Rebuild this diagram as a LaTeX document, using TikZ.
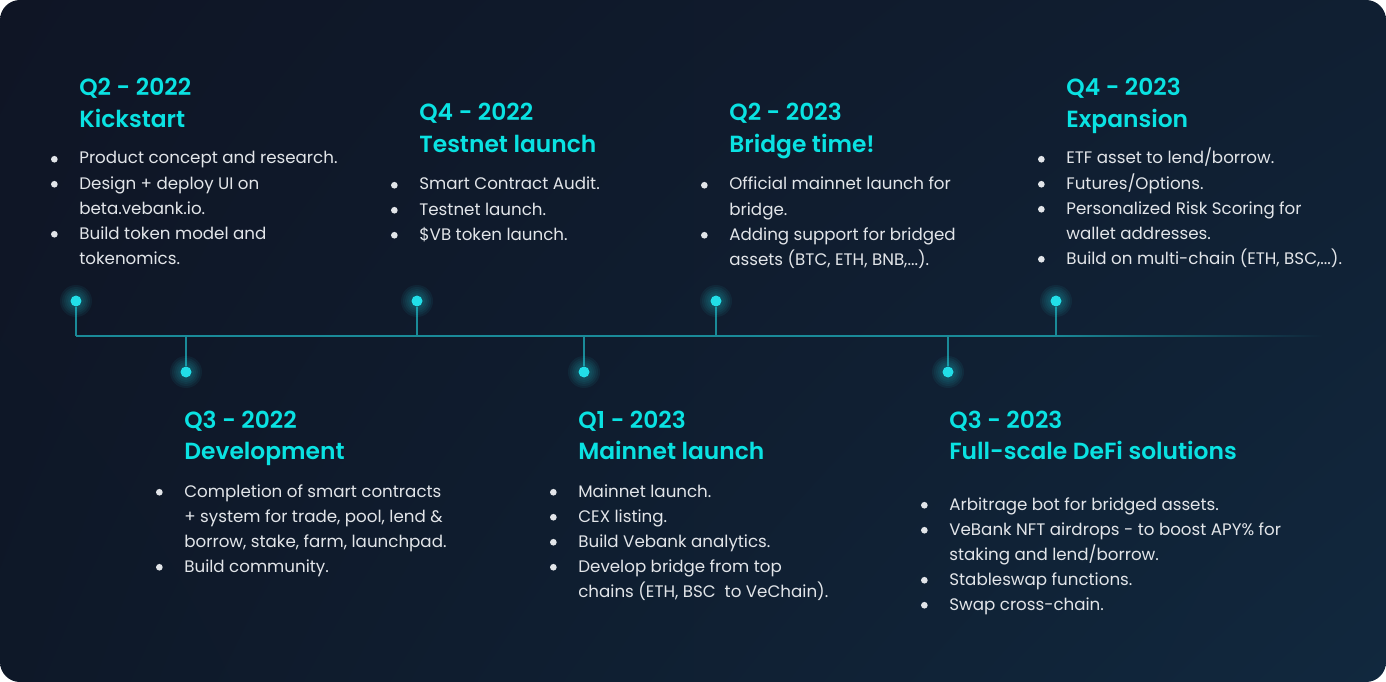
\documentclass[tikz,border=0pt]{standalone}
\usepackage{fontspec}
\setmainfont{Poppins}[BoldFont={Poppins SemiBold}]
\usetikzlibrary{fadings,shadings}
\definecolor{NightTL}{RGB}{15,21,37}
\definecolor{NightTR}{RGB}{16,31,50}
\definecolor{NightBL}{RGB}{14,24,40}
\definecolor{NightBR}{RGB}{17,40,62}
\definecolor{HeadCyan}{RGB}{10,226,226}
\definecolor{SoftWhite}{RGB}{226,229,233}
\definecolor{LineTeal}{RGB}{26,138,152}
\definecolor{DotCyan}{RGB}{34,222,232}

\newcommand{\bl}{\llap{\tikz[baseline=-2.7pt]\fill[SoftWhite] (0,0) circle (1.9pt);\hspace{\dimexpr0.5cm-1.9pt\relax}}}

\tikzset{
  qhead/.style={font=\fontsize{13.3}{18.2}\selectfont\bfseries, text=HeadCyan},
  qlist/.style={font=\fontsize{9.5}{14.23}\selectfont, text=SoftWhite},
  glowdot/.style={circle, fill=DotCyan, minimum size=0.22cm},
  stem/.style={LineTeal, line width=1.1pt},
}

\begin{document}
\begin{tikzpicture}[x=0.02cm, y=-0.02cm, every node/.style={inner sep=0pt, anchor=base west}]
  \useasboundingbox[fill=white] (0,0) rectangle (1386,682);
  \shade[rounded corners=0.4cm, upper left=NightTL, upper right=NightTR,
    lower left=NightBL, lower right=NightBR] (0,0) rectangle (1386,682);

  % timeline
  \coordinate (j1) at (76,336);
  \coordinate (j2) at (186,336);
  \coordinate (j3) at (417,336);
  \coordinate (j4) at (584,336);
  \coordinate (j5) at (716,336);
  \coordinate (j6) at (948,336);
  \coordinate (j7) at (1056,336);
  \coordinate (tail) at (1322,336);
  \draw[LineTeal, line width=1.6pt] (j1) -- (j7);
  \draw[LineTeal, line width=1.6pt, path fading=east] (j7) -- (tail);

  \node[glowdot, anchor=center] (d1) at (76,301) {};
  \node[glowdot, anchor=center] (d2) at (186,372) {};
  \node[glowdot, anchor=center] (d3) at (417,301) {};
  \node[glowdot, anchor=center] (d4) at (584,372) {};
  \node[glowdot, anchor=center] (d5) at (716,301) {};
  \node[glowdot, anchor=center] (d6) at (948,372) {};
  \node[glowdot, anchor=center] (d7) at (1056,301) {};
  \foreach \i in {1,...,7} {
    \draw[stem] (d\i) -- (j\i);
    \foreach \r in {0.32,0.28,0.24,0.2,0.16}
      \fill[DotCyan, opacity=0.06] (d\i) circle (\r cm);
  }

  % Q2 - 2022
  \node[qhead] (h1) at (79,96) {\begin{tabular}[t]{@{}l@{}}Q2 - 2022\\Kickstart\end{tabular}};
  \node[qlist] (l1) at (79,164) {\begin{tabular}[t]{@{}l@{}}
    \bl Product concept and research.\\
    \bl Design + deploy UI on\\
    beta.vebank.io.\\
    \bl Build token model and\\
    tokenomics.\end{tabular}};

  % Q3 - 2022
  \node[qhead] (h2) at (184,428) {\begin{tabular}[t]{@{}l@{}}Q3 - 2022\\Development\end{tabular}};
  \node[qlist] (l2) at (184,497) {\begin{tabular}[t]{@{}l@{}}
    \bl Completion of smart contracts\\
    + system for trade, pool, lend \&\\
    borrow, stake, farm, launchpad.\\
    \bl Build community.\end{tabular}};

  % Q4 - 2022
  \node[qhead] (h3) at (419,121) {\begin{tabular}[t]{@{}l@{}}Q4 - 2022\\Testnet launch\end{tabular}};
  \node[qlist] (l3) at (419,190) {\begin{tabular}[t]{@{}l@{}}
    \bl Smart Contract Audit.\\
    \bl Testnet launch.\\
    \bl \$VB token launch.\end{tabular}};

  % Q1 - 2023
  \node[qhead] (h4) at (578,428) {\begin{tabular}[t]{@{}l@{}}Q1 - 2023\\Mainnet launch\end{tabular}};
  \node[qlist] (l4) at (578,497) {\begin{tabular}[t]{@{}l@{}}
    \bl Mainnet launch.\\
    \bl CEX listing.\\
    \bl Build Vebank analytics.\\
    \bl Develop bridge from top\\
    chains (ETH, BSC\ \ to VeChain).\end{tabular}};

  % Q2 - 2023
  \node[qhead] (h5) at (729,121) {\begin{tabular}[t]{@{}l@{}}Q2 - 2023\\Bridge time!\end{tabular}};
  \node[qlist] (l5) at (729,190) {\begin{tabular}[t]{@{}l@{}}
    \bl Official mainnet launch for\\
    bridge.\\
    \bl Adding support for bridged\\
    assets (BTC, ETH, BNB,...).\end{tabular}};

  % Q3 - 2023
  \node[qhead] (h6) at (949,428) {\begin{tabular}[t]{@{}l@{}}Q3 - 2023\\Full-scale DeFi solutions\end{tabular}};
  \node[qlist] (l6) at (949,510) {\begin{tabular}[t]{@{}l@{}}
    \bl Arbitrage bot for bridged assets.\\
    \bl VeBank NFT airdrops - to boost APY\% for\\
    staking and lend/borrow.\\
    \bl Stableswap functions.\\
    \bl Swap cross-chain.\end{tabular}};

  % Q4 - 2023
  \node[qhead] (h7) at (1066,96) {\begin{tabular}[t]{@{}l@{}}Q4 - 2023\\Expansion\end{tabular}};
  \node[qlist] (l7) at (1066,164) {\begin{tabular}[t]{@{}l@{}}
    \bl ETF asset to lend/borrow.\\
    \bl Futures/Options.\\
    \bl Personalized Risk Scoring for\\
    wallet addresses.\\
    \bl Build on multi-chain (ETH, BSC,...).\end{tabular}};
\end{tikzpicture}
\end{document}
